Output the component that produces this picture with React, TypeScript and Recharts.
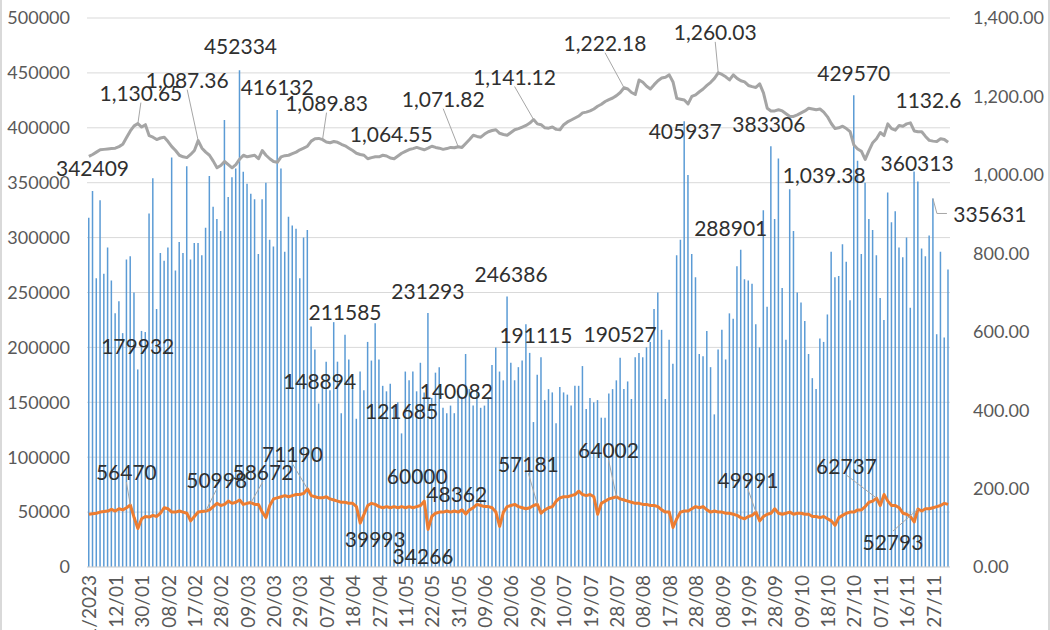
import { ComposedChart, Bar, Line, XAxis, YAxis, CartesianGrid, LabelList } from 'recharts';

// tick labels, one every 7th trading day
const dateTicks = [
  '03/01/2023', '12/01', '30/01', '08/02', '17/02', '28/02', '09/03', '20/03', '29/03', '07/04',
  '18/04', '27/04', '11/05', '22/05', '31/05', '09/06', '20/06', '29/06', '10/07', '19/07',
  '28/07', '08/08', '17/08', '28/08', '08/09', '19/09', '28/09', '09/10', '18/10', '27/10',
  '07/11', '16/11', '27/11',
];

// blue bars, left axis
const volume = [
  318000, 342409, 263000, 334000, 267000, 291000, 261000, 231000, 242000, 213000,
  280000, 283000, 250000, 179932, 215000, 214000, 322000, 354000, 235000, 286000,
  279000, 291000, 373000, 270000, 296000, 286000, 365000, 280000, 295000, 295000,
  284000, 309000, 356000, 328000, 317000, 306000, 407000, 337000, 355000, 363000,
  452334, 360000, 349000, 340000, 335000, 285000, 335000, 350000, 298000, 292000,
  416132, 363000, 287000, 319000, 311000, 308000, 263000, 300000, 307000, 219000,
  198000, 148894, 169000, 187000, 161000, 223000, 187000, 140000, 211585, 189000,
  163000, 135000, 178000, 161000, 205000, 188000, 222000, 189000, 165000, 160000,
  167000, 147000, 150000, 121685, 178000, 170000, 178000, 160000, 186000, 159000,
  231293, 154000, 177000, 182000, 145000, 140000, 147000, 140082, 160000, 155000,
  194000, 162000, 147000, 162000, 145000, 147000, 154000, 184000, 200000, 178000,
  170000, 246386, 186000, 170000, 182000, 188000, 221000, 195000, 132000, 175000,
  191115, 152000, 162000, 159000, 131000, 164000, 159000, 157000, 147000, 165000,
  165000, 183000, 144000, 154000, 150000, 152000, 136000, 136000, 158000, 162000,
  170000, 190527, 162000, 169000, 153000, 191000, 195000, 191000, 200000, 205000,
  235000, 250000, 216000, 153000, 207000, 185000, 284000, 298000, 405937, 357000,
  285000, 264000, 194000, 192000, 215000, 182000, 139000, 198000, 216000, 189000,
  231000, 226000, 274000, 288901, 262000, 261000, 258000, 221000, 200000, 325000,
  237000, 383306, 317000, 372000, 254000, 207000, 344000, 306000, 250000, 241000,
  224000, 194000, 172000, 162000, 208000, 205000, 230000, 287000, 264000, 265000,
  294000, 278000, 243000, 429570, 370000, 285000, 350000, 317000, 307000, 284000,
  245000, 225000, 341000, 314000, 324000, 291000, 282000, 300000, 236000, 360313,
  351000, 290000, 283000, 302000, 335631, 212000, 287000, 209000, 271000,
];

// orange line, left axis
const flow = [
  48000, 48500, 49000, 50000, 50500, 51000, 52500, 51000, 53000, 52000,
  54000, 56470, 45000, 35000, 44000, 46000, 45500, 47000, 46000, 49000,
  54000, 53000, 50000, 50000, 51000, 50000, 49000, 42000, 46000, 50000,
  50500, 50998, 52000, 55000, 58000, 56000, 57000, 60000, 58000, 59000,
  61000, 57000, 58000, 58672, 57000, 57000, 50000, 45000, 56000, 62000,
  63000, 64000, 65000, 64000, 65000, 66000, 66000, 67000, 71190, 65000,
  64000, 63000, 63000, 64000, 62000, 61000, 60000, 59000, 59000, 58000,
  58000, 55000, 39993, 48000, 56000, 58000, 57000, 55000, 54000, 55000,
  54000, 55000, 54000, 55000, 54000, 55000, 54000, 55000, 56000, 60000,
  34266, 46000, 49000, 50000, 50000, 51000, 50000, 51000, 50000, 52000,
  48362, 52000, 54000, 57000, 56000, 55000, 55000, 54000, 50000, 37000,
  50000, 55000, 56000, 57000, 55000, 54000, 53000, 54000, 56000, 57181,
  49000, 52000, 54000, 55000, 60000, 63000, 64000, 64000, 65000, 66000,
  69000, 66000, 65000, 66000, 64000, 48000, 58000, 60000, 62000, 63000,
  64002, 62000, 61000, 60000, 59000, 58000, 58000, 57000, 57000, 56000,
  56000, 55000, 52000, 50000, 50000, 36000, 44000, 50000, 51000, 51000,
  53000, 55000, 54000, 55000, 52000, 50000, 51000, 50000, 50000, 49000,
  49000, 48000, 47000, 45000, 44000, 46000, 47000, 49991, 42000, 46000,
  48000, 49000, 53000, 49000, 48000, 49000, 50000, 48000, 49000, 49000,
  48000, 48000, 46000, 46000, 45000, 46000, 44000, 42000, 38000, 45000,
  47000, 49000, 50000, 50000, 52000, 52000, 55000, 59000, 60000, 62737,
  56000, 66000, 60000, 56000, 56000, 54000, 49000, 48000, 46000, 41000,
  52793, 51000, 53000, 53000, 54000, 55000, 56000, 58000, 57000,
];

// grey line, right axis
const indexLevel = [
  1047, 1052, 1058, 1064, 1065, 1066, 1067, 1068, 1072, 1078,
  1095, 1112, 1125, 1130.65, 1122, 1128, 1100, 1096, 1090, 1094,
  1096, 1085, 1072, 1062, 1050, 1046, 1044, 1052, 1062, 1087.36,
  1068, 1058, 1050, 1035, 1018, 1024, 1034, 1026, 1018, 1026,
  1040, 1050, 1046, 1048, 1050, 1041, 1062, 1050, 1041, 1034,
  1032, 1046, 1049, 1050, 1054, 1058, 1064, 1068, 1073, 1086,
  1092, 1093, 1089.83, 1084, 1082, 1085, 1083, 1078, 1074, 1068,
  1062, 1055, 1052, 1050, 1041, 1044, 1046, 1046, 1050, 1048,
  1043, 1041, 1048, 1055, 1060, 1064.55, 1067, 1070, 1067, 1064,
  1068, 1073, 1070, 1068, 1065, 1067, 1070, 1069, 1071.82, 1070,
  1080, 1090, 1101, 1098, 1096, 1104, 1110, 1113, 1115, 1106,
  1103, 1101, 1108, 1115, 1118, 1122, 1126, 1132, 1141.12, 1130,
  1128, 1120, 1119, 1122, 1116, 1115, 1128, 1135, 1140, 1145,
  1150, 1158, 1160, 1163, 1168, 1175, 1180, 1187, 1192, 1196,
  1202, 1210, 1222.18, 1219, 1210, 1205, 1242, 1236, 1226, 1219,
  1230, 1240, 1247, 1249, 1255, 1237, 1195, 1193, 1191, 1181,
  1200, 1204, 1212, 1219, 1228, 1236, 1246, 1260.03, 1256, 1250,
  1242, 1255, 1246, 1240, 1237, 1228, 1225, 1223, 1232, 1209,
  1170, 1163, 1163, 1166, 1163, 1156, 1149, 1149, 1153, 1158,
  1163, 1170, 1168, 1166, 1168, 1160, 1148, 1131, 1118, 1120,
  1124, 1118, 1110, 1076, 1066, 1060, 1039.38, 1062, 1082, 1092,
  1108, 1100, 1130, 1118, 1114, 1126, 1124, 1130, 1132.6, 1112,
  1110, 1110, 1098, 1088, 1086, 1085, 1092, 1090, 1083,
];

const leftTicks = [0, 50000, 100000, 150000, 200000, 250000, 300000, 350000, 400000, 450000, 500000];
const rightTicks = [0, 200, 400, 600, 800, 1000, 1200, 1400];

const rows = volume.map((v, i) => ({ idx: i, vol: v, flow: flow[i], level: indexLevel[i] }));

// label offsets from the data point (label centre), like the callouts dragged in Excel
type Callout = { i: number; dx: number; dy: number; leader?: boolean; elbow?: boolean; plain?: boolean };

const barCallouts: Callout[] = [
  { i: 1, dx: 0, dy: -24 }, { i: 13, dx: 0, dy: -24 }, { i: 40, dx: 1, dy: -25 },
  { i: 50, dx: 0, dy: -24 }, { i: 61, dx: 1, dy: -23 }, { i: 68, dx: 0, dy: -23 },
  { i: 83, dx: 0, dy: -23 }, { i: 90, dx: 0, dy: -23 }, { i: 97, dx: 2, dy: -23 },
  { i: 111, dx: 4, dy: -23 }, { i: 120, dx: -5, dy: -23 }, { i: 141, dx: 0, dy: -24 },
  { i: 158, dx: 1, dy: 9 }, { i: 173, dx: -10, dy: -22 }, { i: 181, dx: -2, dy: -23 },
  { i: 203, dx: 0, dy: -23 }, { i: 219, dx: 3, dy: -9 }, { i: 224, dx: 57, dy: 15, elbow: true },
];

const flowCallouts: Callout[] = [
  { i: 11, dx: -4, dy: -33, leader: true }, { i: 31, dx: 11, dy: -32, leader: true },
  { i: 43, dx: 12, dy: -31, leader: true }, { i: 58, dx: -15, dy: -35, leader: true },
  { i: 72, dx: 15, dy: 15 }, { i: 89, dx: -7, dy: -26 }, { i: 90, dx: -5, dy: 26 },
  { i: 100, dx: -9, dy: -20 }, { i: 119, dx: -9, dy: -41, leader: true },
  { i: 140, dx: -8, dy: -47, leader: true }, { i: 177, dx: -8, dy: -33, leader: true },
  { i: 209, dx: -30, dy: -33, leader: true }, { i: 220, dx: -25, dy: 32, leader: true },
];

const levelCallouts: Callout[] = [
  { i: 13, dx: 3, dy: -31, leader: true }, { i: 29, dx: -11, dy: -61, leader: true },
  { i: 62, dx: 4, dy: -37, leader: true }, { i: 85, dx: -18, dy: -16 },
  { i: 98, dx: -15, dy: -48, leader: true }, { i: 118, dx: -19, dy: -43, leader: true },
  { i: 142, dx: -19, dy: -45, leader: true }, { i: 167, dx: -3, dy: -41, leader: true },
  { i: 206, dx: -41, dy: 15 }, { i: 218, dx: 18, dy: -23, plain: true },
];

const fmt2 = (v: number) => v.toLocaleString('en-US', { minimumFractionDigits: 2, maximumFractionDigits: 2 });

function CalloutMark({ px, py, c, text }: { px: number; py: number; c: Callout; text: string }) {
  const cx = px + c.dx;
  const cy = py + c.dy;
  let leader = null;
  if (c.leader) {
    const ey = c.dy < 0 ? cy + 10 : cy - 10;
    leader = <line x1={cx} y1={ey} x2={px} y2={py} stroke="#a6a6a6" strokeWidth={1} />;
  }
  if (c.elbow) {
    leader = (
      <polyline points={`${px},${py} ${px + 4},${cy} ${cx - 43},${cy}`} fill="none" stroke="#a6a6a6" strokeWidth={1} />
    );
  }
  return (
    <g>
      {leader}
      <text x={cx} y={cy} textAnchor="middle" dominantBaseline="central" fontSize={21} fill="#303030">
        {text}
      </text>
    </g>
  );
}

const barLabel = (props: any) => {
  const c = barCallouts.find((o) => o.i === props.index);
  if (!c) return null;
  const vb = props.viewBox || {};
  const x = Number(props.x ?? vb.x) + Number(props.width ?? vb.width ?? 0) / 2;
  const y = Number(props.y ?? vb.y);
  return <CalloutMark px={x} py={y} c={c} text={String(volume[c.i])} />;
};

const flowDot = (p: any) => {
  const c = flowCallouts.find((o) => o.i === p.index);
  if (!c) return <g key={`f${p.index}`} />;
  return (
    <g key={`f${p.index}`}>
      <CalloutMark px={p.cx} py={p.cy} c={c} text={String(flow[c.i])} />
    </g>
  );
};

const levelDot = (p: any) => {
  const c = levelCallouts.find((o) => o.i === p.index);
  if (!c) return <g key={`l${p.index}`} />;
  const v = indexLevel[c.i];
  return (
    <g key={`l${p.index}`}>
      <CalloutMark px={p.cx} py={p.cy} c={c} text={c.plain ? String(v) : fmt2(v)} />
    </g>
  );
};

const DateTick = (props: any) => {
  const { x, y, payload } = props;
  const label = dateTicks[Math.round(payload.value / 7)] ?? '';
  return (
    <text
      x={x}
      y={y}
      transform={`rotate(-90, ${x}, ${y})`}
      textAnchor="end"
      dominantBaseline="central"
      fontSize={19}
      fill="#595959"
    >
      {label}
    </text>
  );
};

export default function App() {
  return (
    <div
      style={{
        position: 'absolute',
        left: 0,
        top: 0,
        width: 1050,
        height: 630,
        boxSizing: 'border-box',
        borderLeft: '2px solid #d9d9d9',
        borderRight: '2px solid #d9d9d9',
        background: '#fff',
        overflow: 'hidden',
        fontFamily: 'Lato, sans-serif',
      }}
    >
      <ComposedChart width={1046} height={630} data={rows} margin={{ top: 18, right: 0, bottom: 0, left: 0 }}>
        <CartesianGrid yAxisId="left" vertical={false} stroke="#d9d9d9" />
        <XAxis
          dataKey="idx"
          interval={6}
          tickLine={false}
          axisLine={{ stroke: '#d9d9d9' }}
          height={63}
          tick={<DateTick />}
        />
        <YAxis
          yAxisId="left"
          width={85}
          domain={[0, 500000]}
          ticks={leftTicks}
          axisLine={false}
          tickLine={false}
          tickMargin={11}
          tick={{ fontSize: 18, fill: '#595959' }}
        />
        <YAxis
          yAxisId="right"
          orientation="right"
          width={98}
          domain={[0, 1400]}
          ticks={rightTicks}
          axisLine={false}
          tickLine={false}
          tickMargin={17}
          tickFormatter={fmt2}
          tick={{ fontSize: 18, fill: '#595959', textAnchor: 'start' }}
        />
        <Bar yAxisId="left" dataKey="vol" fill="#5B9BD5" barSize={1.5} isAnimationActive={false}>
          <LabelList dataKey="vol" content={barLabel} />
        </Bar>
        <Line
          yAxisId="left"
          type="linear"
          dataKey="flow"
          stroke="#ED7D31"
          strokeWidth={3}
          strokeLinejoin="round"
          dot={flowDot}
          activeDot={false}
          isAnimationActive={false}
        />
        <Line
          yAxisId="right"
          type="linear"
          dataKey="level"
          stroke="#A5A5A5"
          strokeWidth={3}
          strokeLinejoin="round"
          dot={levelDot}
          activeDot={false}
          isAnimationActive={false}
        />
      </ComposedChart>
    </div>
  );
}
